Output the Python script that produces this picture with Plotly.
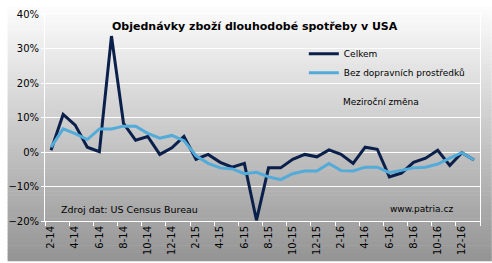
import plotly.graph_objects as go

months = ["2-14","3-14","4-14","5-14","6-14","7-14","8-14","9-14","10-14","11-14","12-14",
          "1-15","2-15","3-15","4-15","5-15","6-15","7-15","8-15","9-15","10-15","11-15","12-15",
          "1-16","2-16","3-16","4-16","5-16","6-16","7-16","8-16","9-16","10-16","11-16","12-16",
          "1-17"]
celkem = [0.5, 10.9, 7.8, 1.4, 0.1, 33.6, 8.3, 3.4, 4.5, -0.7, 1.2,
          4.5, -2.1, -0.7, -3.0, -4.4, -3.3, -19.8, -4.6, -4.6, -2.1, -0.7, -1.4,
          0.6, -0.7, -3.3, 1.4, 0.8, -7.2, -6.1, -3.0, -1.8, 0.5, -3.9, -0.2,
          -2.3]
bez_dopravy = [1.4, 6.7, 5.3, 3.6, 6.7, 6.7, 7.5, 7.5, 5.4, 4.0, 4.8,
               3.3, -1.1, -3.3, -4.6, -4.9, -6.3, -5.9, -7.2, -8.0, -6.3, -5.5, -5.5,
               -3.3, -5.4, -5.5, -4.4, -4.4, -6.0, -5.4, -4.6, -4.4, -3.5, -1.8, -0.2,
               -2.3]
label_months = months[::2][:18]

W, H = 492, 263
ML, MR, MT, MB = 38, 12, 8, 41
PW, PH = W - ML - MR, H - MT - MB

xs = list(range(len(months)))
fig = go.Figure()
fig.add_trace(go.Scatter(x=xs, y=celkem, mode="lines", name="Celkem",
                         line=dict(color="#0b1f4b", width=3)))
fig.add_trace(go.Scatter(x=xs, y=bez_dopravy, mode="lines", name="Bez dopravních prostředků",
                         line=dict(color="#52abd9", width=3)))

# background gradient strips spanning whole figure
shapes = []
N = 66
top_c, bot_c = (253, 253, 253), (148, 148, 148)
for k in range(N):
    t = (k + 0.5) / N
    c = tuple(int(round(top_c[j] + (bot_c[j] - top_c[j]) * t)) for j in range(3))
    py0 = k * H / N
    py1 = (k + 1) * H / N + 0.6
    shapes.append(dict(type="rect", xref="paper", yref="paper", layer="below",
                       x0=-ML / PW, x1=1 + MR / PW,
                       y0=1 - (py1 - MT) / PH, y1=1 - (py0 - MT) / PH,
                       fillcolor="rgb(%d,%d,%d)" % c, line=dict(width=0)))

font = "DejaVu Sans, Verdana, sans-serif"

def px_x(px):
    return (px - ML) / PW

def px_y(py):
    return 1 - (py - MT) / PH

annotations = [
    dict(text="<b>Objednávky zboží dlouhodobé spotřeby v USA</b>", x=px_x(251), y=px_y(21),
         xref="paper", yref="paper", showarrow=False, xanchor="center", yanchor="middle",
         font=dict(family=font, size=11, color="#000")),
    dict(text="Meziroční změna", x=px_x(339), y=px_y(99), xref="paper", yref="paper",
         showarrow=False, xanchor="left", yanchor="middle",
         font=dict(family=font, size=9, color="#000")),
    dict(text="Zdroj dat: US Census Bureau", x=px_x(52), y=px_y(210), xref="paper", yref="paper",
         showarrow=False, xanchor="left", yanchor="middle",
         font=dict(family=font, size=9.5, color="#000")),
    dict(text="www.patria.cz", x=px_x(387), y=px_y(210), xref="paper", yref="paper",
         showarrow=False, xanchor="left", yanchor="middle",
         font=dict(family=font, size=9, color="#000")),
]

fig.update_layout(
    width=W, height=H,
    margin=dict(l=ML, r=MR, t=MT, b=MB, pad=0),
    paper_bgcolor="rgba(0,0,0,0)", plot_bgcolor="rgba(0,0,0,0)",
    shapes=shapes, annotations=annotations,
    showlegend=True,
    legend=dict(x=px_x(301), y=px_y(34), xanchor="left", yanchor="top",
                bgcolor="rgba(0,0,0,0)", font=dict(family=font, size=9, color="#000"),
                tracegroupgap=0, itemwidth=30),
    font=dict(family=font, size=10, color="#000"),
)
fig.update_xaxes(range=[-0.5, len(months) - 0.5], tickmode="array",
                 tickvals=xs[::2][:18], ticktext=label_months, tickangle=-90,
                 ticks="", showgrid=False, zeroline=False,
                 showline=True, linecolor="white", linewidth=1, mirror=True,
                 tickfont=dict(family=font, size=10, color="#000"),
                 minor=dict(tickmode="array", tickvals=[i - 0.5 for i in xs[::2]] + [len(months) - 0.5],
                            ticks="outside", ticklen=4, tickcolor="white", showgrid=False))
fig.update_yaxes(range=[-20, 40], dtick=10, ticksuffix="%", showgrid=True, gridcolor="white",
                 gridwidth=1, zeroline=False, showline=True, linecolor="white", linewidth=1,
                 mirror=True, ticks="outside", ticklen=3, tickcolor="white",
                 tickfont=dict(family=font, size=10, color="#000"))

fig.write_html("out.html")
